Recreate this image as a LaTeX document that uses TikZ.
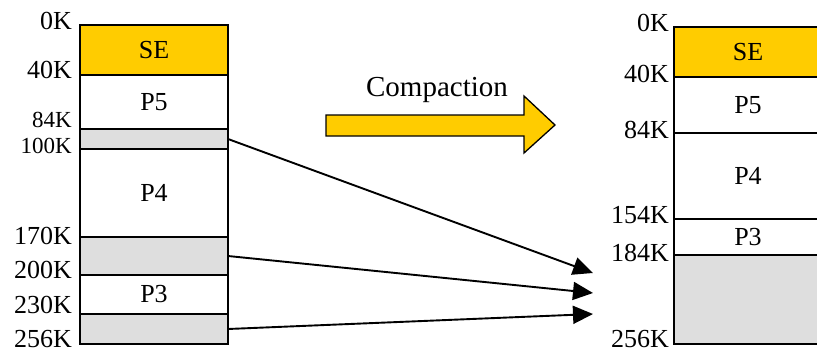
\documentclass[tikz,border=0pt]{standalone}
\usepackage{fontspec}
\setmainfont{Liberation Serif}
\usetikzlibrary{arrows.meta}
\definecolor{segold}{HTML}{FFCC00}
\definecolor{freegray}{HTML}{DEDEDE}
\tikzset{
  mem/.style={draw, line width=1.3pt, minimum width=148pt, inner sep=0pt, outer sep=0pt, anchor=north west, font=\fontsize{26}{28}\selectfont},
  used/.style={mem, fill=white},
  sys/.style={mem, fill=segold},
  hole/.style={mem, fill=freegray},
  addr/.style={anchor=base east, inner sep=0pt, font=\fontsize{26}{28}\selectfont},
  tightaddr/.style={addr, font=\fontsize{23}{25}\selectfont},
  link/.style={line width=1.9pt, -{Triangle[length=20pt,width=18pt]}},
}
\begin{document}
\begin{tikzpicture}[x=1pt,y=-1pt]
\useasboundingbox (0,0) rectangle (817,351);
\fill[white] (0,0) rectangle (817,351);
% left memory
\node[sys,  minimum height=50pt] (lse) at (80,25) {SE};
\node[used, minimum height=54pt] (lp5) at (80,75) {P5};
\node[hole, minimum height=20pt] (lh1) at (80,129) {};
\node[used, minimum height=88pt] (lp4) at (80,149) {P4};
\node[hole, minimum height=38pt] (lh2) at (80,237) {};
\node[used, minimum height=39pt] (lp3) at (80,275) {P3};
\node[hole, minimum height=30pt] (lh3) at (80,314) {};
\node[addr] (l0) at (72,29) {0K};
\node[addr] (l40) at (72,78) {40K};
\node[tightaddr] (l84) at (72,127) {84K};
\node[tightaddr] (l100) at (72,153) {100K};
\node[addr] (l170) at (72,244) {170K};
\node[addr] (l200) at (72,278) {200K};
\node[addr] (l230) at (72,313) {230K};
\node[addr] (l256) at (72,347) {256K};
% right memory
\begin{scope}
\clip (0,0) rectangle (817,351);
\node[sys,  minimum height=50pt] (rse) at (674,27) {SE};
\node[used, minimum height=56pt] (rp5) at (674,77) {P5};
\node[used, minimum height=86pt] (rp4) at (674,133) {P4};
\node[used, minimum height=36pt] (rp3) at (674,219) {P3};
\node[hole, minimum height=89pt] (rh) at (674,255) {};
\end{scope}
\node[addr] (r0) at (669,31) {0K};
\node[addr] (r40) at (669,82) {40K};
\node[addr] (r84) at (669,138) {84K};
\node[addr] (r154) at (669,223) {154K};
\node[addr] (r184) at (669,261) {184K};
\node[addr] (r256) at (669,347) {256K};
% compaction arrow
\draw[line width=1.3pt, fill=segold, line join=miter]
  (326,115) -- (524,115) -- (524,96) -- (555,125) -- (524,153) -- (524,136) -- (326,136) -- cycle;
\node[font=\fontsize{29}{31}\selectfont, inner sep=0pt] (cap) at (437,90) {Compaction};
% connectors
\coordinate (t1) at (593,273);
\coordinate (t2) at (593,293);
\coordinate (t3) at (593,314);
\draw[link] (lh1.east) -- (t1);
\draw[link] (lh2.east) -- (t2);
\draw[link] (lh3.east) -- (t3);
\end{tikzpicture}
\end{document}
